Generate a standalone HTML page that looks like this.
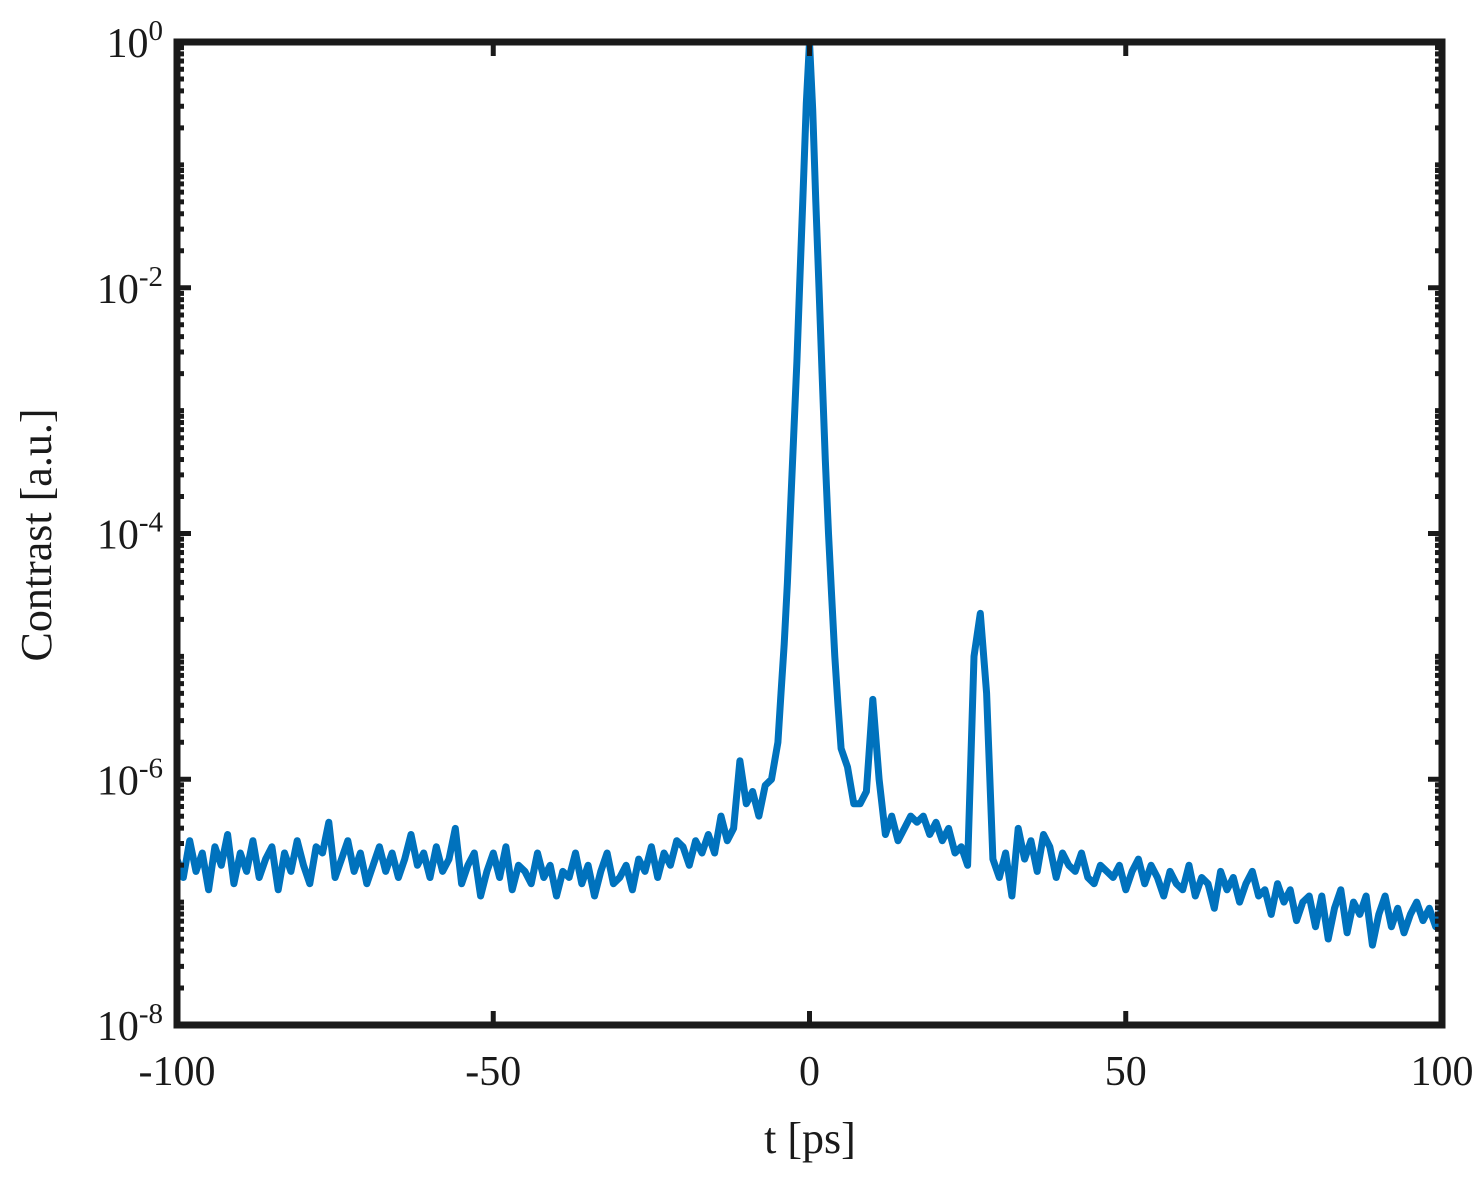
<!DOCTYPE html>
<html><head><meta charset="utf-8"><style>
body{margin:0;background:#fff}
svg{display:block}
text{font-family:"Liberation Serif",serif;fill:#1a1a1a}
</style></head><body>
<svg id="chart" width="1482" height="1179" viewBox="0 0 1482 1179"></svg>
<script>
const xTicks=[-100,-50,0,50,100];
const yTickExps=[0,-2,-4,-6,-8];
const times=[-100,-99,-98,-97,-96,-95,-94,-93,-92,-91,-90,-89,-88,-87,-86,-85,-84,-83,-82,-81,
-80,-79,-78,-77,-76,-75,-74,-73,-72,-71,-70,-69,-68,-67,-66,-65,-64,-63,-62,-61,
-60,-59,-58,-57,-56,-55,-54,-53,-52,-51,-50,-49,-48,-47,-46,-45,-44,-43,-42,-41,
-40,-39,-38,-37,-36,-35,-34,-33,-32,-31,-30,-29,-28,-27,-26,-25,-24,-23,-22,-21,
-20,-19,-18,-17,-16,-15,-14,-13,-12,-11,-10,-9,-8,-7,-6,
-5,-4.5,-4,-3.5,-3,-2.5,-2,-1.5,-1,-0.5,0,0.5,1,1.5,2,2.5,3,3.5,4,4.5,5,
6,7,8,9,10,11,12,13,14,15,16,17,18,19,20,21,22,23,24,25,26,27,28,29,30,
31,32,33,34,35,36,37,38,39,40,41,42,43,44,45,46,47,48,49,50,
51,52,53,54,55,56,57,58,59,60,61,62,63,64,65,66,67,68,69,70,
71,72,73,74,75,76,77,78,79,80,81,82,83,84,85,86,87,88,89,90,
91,92,93,94,95,96,97,98,99,100];
const log10Contrast=[-6.65,-6.8,-6.5,-6.75,-6.6,-6.9,-6.55,-6.7,-6.45,-6.85,-6.6,-6.75,-6.5,-6.8,-6.65,-6.55,-6.9,-6.6,-6.75,-6.5,
-6.7,-6.85,-6.55,-6.6,-6.35,-6.8,-6.65,-6.5,-6.75,-6.6,-6.85,-6.7,-6.55,-6.75,-6.6,-6.8,-6.65,-6.45,-6.7,-6.6,
-6.8,-6.55,-6.75,-6.65,-6.4,-6.85,-6.7,-6.6,-6.95,-6.75,-6.6,-6.8,-6.55,-6.9,-6.7,-6.75,-6.85,-6.6,-6.8,-6.7,
-6.95,-6.75,-6.8,-6.6,-6.85,-6.7,-6.95,-6.75,-6.6,-6.85,-6.8,-6.7,-6.9,-6.65,-6.75,-6.55,-6.8,-6.6,-6.7,-6.5,
-6.55,-6.7,-6.5,-6.6,-6.45,-6.6,-6.3,-6.5,-6.4,-5.85,-6.2,-6.1,-6.3,-6.05,-6.0,
-5.7,-5.3,-4.9,-4.4,-3.8,-3.2,-2.6,-1.9,-1.2,-0.5,0,-0.55,-1.3,-2.0,-2.7,-3.4,-4.0,-4.5,-5.0,-5.4,-5.75,
-5.9,-6.2,-6.2,-6.1,-5.35,-6.0,-6.45,-6.3,-6.5,-6.4,-6.3,-6.35,-6.3,-6.45,-6.35,-6.5,-6.4,-6.6,-6.55,-6.7,-5.0,-4.65,-5.3,-6.65,-6.8,
-6.6,-6.95,-6.4,-6.65,-6.5,-6.75,-6.45,-6.55,-6.8,-6.6,-6.7,-6.75,-6.6,-6.8,-6.85,-6.7,-6.75,-6.8,-6.7,-6.9,
-6.75,-6.65,-6.85,-6.7,-6.8,-6.95,-6.75,-6.85,-6.9,-6.7,-6.95,-6.8,-6.85,-7.05,-6.75,-6.9,-6.8,-7.0,-6.85,-6.75,
-6.95,-6.9,-7.1,-6.85,-7.0,-6.9,-7.15,-7.0,-6.95,-7.2,-6.95,-7.3,-7.05,-6.9,-7.25,-7.0,-7.1,-6.95,-7.35,-7.1,
-6.95,-7.2,-7.05,-7.25,-7.1,-7.0,-7.15,-7.05,-7.2,-7.05];

const L=177,R=1442,T=42,B=1025;
const xS=t=>L+(t+100)/200*(R-L);
const yS=e=>B-(e+8)/8*(B-T);
const NS='http://www.w3.org/2000/svg';
const svg=document.getElementById('chart');
function mk(tag,attrs,parent){const el=document.createElementNS(NS,tag);for(const k in attrs)el.setAttribute(k,attrs[k]);(parent||svg).appendChild(el);return el;}

let d='';
for(let i=0;i<times.length;i++){d+=(i?'L':'M')+xS(times[i]).toFixed(1)+','+yS(log10Contrast[i]).toFixed(1);}
const line=mk('path',{d:d,fill:'none',stroke:'#0072BD','stroke-width':7,'stroke-linejoin':'round'});



const tg=mk('g',{stroke:'#1a1a1a','stroke-width':5});


for(let e=-8;e<0;e++){for(let m=2;m<10;m++){const y=yS(e+Math.log10(m));mk('line',{x1:L,x2:L+7,y1:y,y2:y},tg);mk('line',{x1:R,x2:R-7,y1:y,y2:y},tg);}}
for(let e=-8;e<=0;e++){const y=yS(e);const len=yTickExps.includes(e)?14:7;mk('line',{x1:L,x2:L+len,y1:y,y2:y},tg);mk('line',{x1:R,x2:R-len,y1:y,y2:y},tg);}
xTicks.forEach(t=>{const x=xS(t);mk('line',{x1:x,x2:x,y1:B,y2:B-14},tg);mk('line',{x1:x,x2:x,y1:T,y2:T+14},tg);});

const fr=mk('rect',{x:L,y:T,width:R-L,height:B-T,fill:'none',stroke:'#1a1a1a','stroke-width':7});



xTicks.forEach(t=>{const tx=mk('text',{x:xS(t),y:1085,'text-anchor':'middle','font-size':42});tx.textContent=String(t);

});
yTickExps.forEach(e=>{const tx=mk('text',{x:163,y:yS(e)+15,'text-anchor':'end','font-size':42});


const a=mk('tspan',{},tx);a.textContent='10';const b=mk('tspan',{dy:-17,'font-size':29},tx);b.textContent=String(e);});

const xt=mk('text',{x:810,y:1153,'text-anchor':'middle','font-size':44});xt.textContent='t [ps]';


const yt=mk('text',{x:0,y:0,'text-anchor':'middle','font-size':44,transform:'translate(51,535) rotate(-90)'});yt.textContent='Contrast [a.u.]';


</script>
</body></html>
